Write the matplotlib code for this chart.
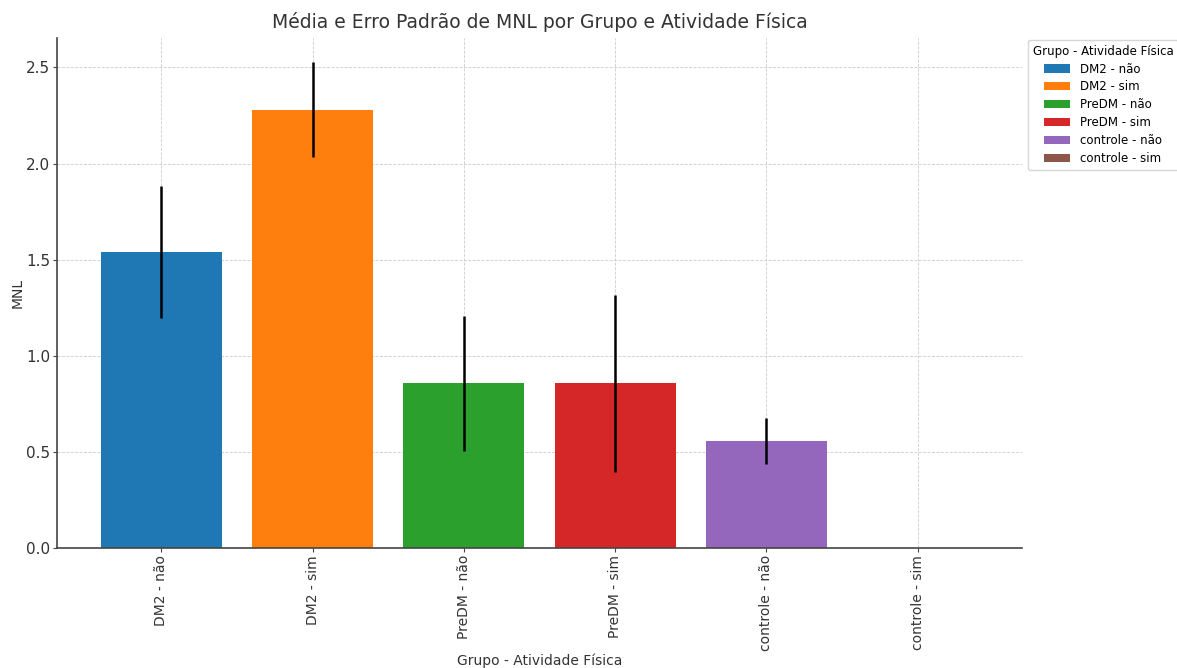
import numpy as np
import matplotlib
matplotlib.use("Agg")
import matplotlib.pyplot as plt

categorias = ["DM2 - não", "DM2 - sim", "PreDM - não", "PreDM - sim",
              "controle - não", "controle - sim"]
media = [1.54, 2.28, 0.858, 0.858, 0.556, np.nan]
erro_padrao = [0.343, 0.247, 0.351, 0.46, 0.12, np.nan]
cores = ["#1f77b4", "#ff7f0e", "#2ca02c", "#d62728", "#9467bd", "#8c564b"]

plt.rcParams['font.family'] = ['DejaVu Sans']

fig = plt.figure(figsize=(11.77, 6.68), dpi=100)
ax = fig.add_axes([0.0484, 0.1796, 0.8199, 0.7635])

x = np.arange(len(categorias))
for i in range(len(categorias)):
    ax.bar(x[i], media[i], width=0.8, color=cores[i], label=categorias[i],
           yerr=erro_padrao[i], error_kw=dict(ecolor='black', elinewidth=1.8, capsize=0),
           zorder=2)

# a última barra é NaN, então a margem em x vai à mão
ax.set_xlim(-0.4 - 0.29, len(categorias) - 0.6 + 0.29)

ax.set_xticks(x)
ax.set_xticklabels(categorias, rotation=90, fontsize=10, color='#333333')
ax.tick_params(axis='y', labelsize=11, colors='#333333')
ax.tick_params(axis='both', color='#444444', length=3, pad=2)

ax.set_xlabel("Grupo - Atividade Física", fontsize=10, color='#333333', va='center')
ax.xaxis.set_label_coords(0.5, -0.2216)
ax.set_ylabel("MNL", fontsize=10, color='#333333', va='center')
ax.yaxis.set_label_coords(-0.0404, 0.5)
ax.set_title("Média e Erro Padrão de MNL por Grupo e Atividade Física",
             fontsize=13.5, color='#333333', pad=7)

ax.grid(True, linestyle='--', linewidth=0.6, color='#cccccc', zorder=0)
ax.set_axisbelow(True)
for s in ['top', 'right']:
    ax.spines[s].set_visible(False)
for s in ['left', 'bottom']:
    ax.spines[s].set_color('#444444')
    ax.spines[s].set_linewidth(1.2)

leg = ax.legend(title="Grupo - Atividade Física", loc='upper left',
                bbox_to_anchor=(1.0, 1.008), fontsize=8.5, title_fontsize=8.5,
                frameon=True, handlelength=2.2, labelspacing=0.42)
leg.get_frame().set_edgecolor('#cccccc')

# restos do título de cima, cortado pela borda
fig.text(0.625, 0.997, "(MNL)", fontsize=13, color='#333333', va='bottom')

fig.savefig("out.png", dpi=100)
